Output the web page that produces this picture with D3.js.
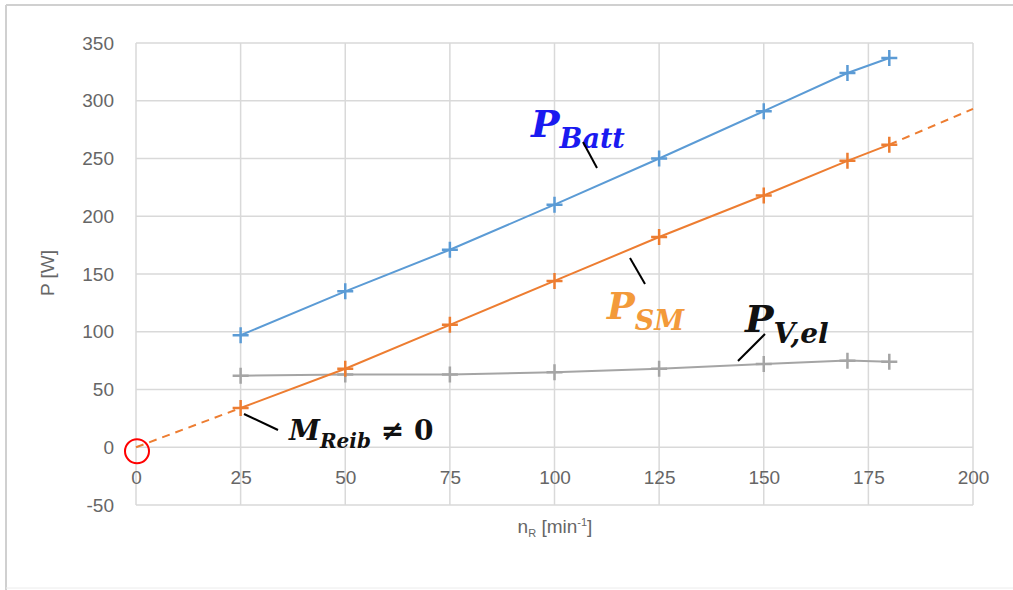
<!DOCTYPE html>
<html>
<head>
<meta charset="utf-8">
<script src="https://cdn.jsdelivr.net/npm/d3@7"></script>
<style>
  body { margin: 0; background: #fff; overflow: hidden; }
  .tick text { font-family: "Liberation Sans", Arial, sans-serif; font-size: 19px; fill: #666; }
</style>
</head>
<body>
<svg id="chart" width="1013" height="590"></svg>
<script>
// data
var nR = [25, 50, 75, 100, 125, 150, 170, 180];
var pBatt = [97, 135, 171, 210, 250, 291, 324, 337];
var pSM = [34, 68, 106, 144, 182, 218, 248, 262];
var pVel = [62, 63, 63, 65, 68, 72, 75, 74];
// dashed extension of P_SM (trend through origin)
var smTrendStart = [0, 0];
var smTrendEnd = [200, 293];
var xTicks = [0, 25, 50, 75, 100, 125, 150, 175, 200];
var yTicks = [-50, 0, 50, 100, 150, 200, 250, 300, 350];

var svg = d3.select("#chart");
var x = d3.scaleLinear().domain([0, 200]).range([136, 973]);
var y = d3.scaleLinear().domain([-50, 350]).range([505, 43]);

// chart area border (top, left, faint bottom)
svg.append("line").attr("x1", 6).attr("x2", 1013).attr("y1", 5).attr("y2", 5)
  .attr("stroke", "#d0d0d0").attr("stroke-width", 2);
svg.append("line").attr("x1", 6).attr("x2", 6).attr("y1", 5).attr("y2", 590)
  .attr("stroke", "#d0d0d0").attr("stroke-width", 2);
svg.append("line").attr("x1", 6).attr("x2", 1013).attr("y1", 588).attr("y2", 588)
  .attr("stroke", "#ececec").attr("stroke-width", 1);

// gridlines
var grid = svg.append("g");
grid.selectAll("line.h").data(yTicks).enter().append("line")
  .attr("x1", x(0)).attr("x2", x(200))
  .attr("y1", function(d){ return y(d); }).attr("y2", function(d){ return y(d); })
  .attr("stroke", "#d9d9d9").attr("stroke-width", 1.5);
grid.selectAll("line.v").data(xTicks).enter().append("line")
  .attr("y1", y(-50)).attr("y2", y(350))
  .attr("x1", function(d){ return x(d); }).attr("x2", function(d){ return x(d); })
  .attr("stroke", "#d9d9d9").attr("stroke-width", 1.5);

// axes (labels only)
var fmt = function(d){ return String(d); };
var yAxis = svg.append("g").attr("transform", "translate(" + (x(0) - 22) + ",0)")
  .call(d3.axisLeft(y).tickValues(yTicks).tickFormat(fmt).tickSize(0).tickPadding(0));
yAxis.select(".domain").remove();
var xAxis = svg.append("g").attr("transform", "translate(0," + (y(0) + 23) + ")")
  .call(d3.axisBottom(x).tickValues(xTicks).tickFormat(fmt).tickSize(0).tickPadding(0));
xAxis.select(".domain").remove();

// axis titles
svg.append("text").attr("transform", "translate(54," + 273 + ") rotate(-90)")
  .attr("text-anchor", "middle").attr("font-family", "Liberation Sans, Arial, sans-serif")
  .attr("font-size", 19).attr("fill", "#666").text("P [W]");
var xt = svg.append("text").attr("x", 555).attr("y", 533).attr("text-anchor", "middle")
  .attr("font-family", "Liberation Sans, Arial, sans-serif").attr("font-size", 19).attr("fill", "#666");
xt.append("tspan").text("n");
xt.append("tspan").attr("font-size", 11).attr("dy", 4).text("R");
xt.append("tspan").attr("dy", -4).text(" [min");
xt.append("tspan").attr("font-size", 11).attr("dy", -7).text("-1");
xt.append("tspan").attr("dy", 7).text("]");

var line = d3.line().x(function(d){ return x(d[0]); }).y(function(d){ return y(d[1]); });

// dashed SM extension
svg.append("path").attr("d", line([smTrendStart, [nR[0], pSM[0]]]))
  .attr("fill", "none").attr("stroke", "#ed7d31").attr("stroke-width", 2).attr("stroke-dasharray", "8,6");
svg.append("path").attr("d", line([[nR[nR.length-1], pSM[pSM.length-1]], smTrendEnd]))
  .attr("fill", "none").attr("stroke", "#ed7d31").attr("stroke-width", 2).attr("stroke-dasharray", "8,6");

var series = [
  {vals: pVel, color: "#a5a5a5"},
  {vals: pSM, color: "#ed7d31"},
  {vals: pBatt, color: "#5b9bd5"}
];
series.forEach(function(s){
  var pts = nR.map(function(n, i){ return [n, s.vals[i]]; });
  svg.append("path").attr("d", line(pts)).attr("fill", "none")
    .attr("stroke", s.color).attr("stroke-width", 2);
  svg.append("g").selectAll("path").data(pts).enter().append("path")
    .attr("d", function(d){
      var cx = x(d[0]), cy = y(d[1]);
      return "M" + (cx - 8) + "," + cy + "H" + (cx + 8) + "M" + cx + "," + (cy - 8) + "V" + (cy + 8);
    })
    .attr("stroke", s.color).attr("stroke-width", 2.5);
});

// annotations
function label(xp, yp, main, sub, color, mainSize, subSize, extra) {
  var t = svg.append("text").attr("x", xp).attr("y", yp)
    .attr("font-family", "DejaVu Serif, serif").attr("font-style", "italic").attr("font-weight", "bold")
    .attr("fill", color);
  t.append("tspan").attr("font-size", mainSize).text(main);
  t.append("tspan").attr("font-size", subSize).attr("dy", subSize * 0.4).text(sub);
  if (extra) t.append("tspan").attr("font-size", mainSize).attr("dy", -subSize * 0.4)
    .attr("font-style", "normal").text(extra);
}
label(531, 137, "P", "Batt", "#1a1af0", 38, 27);
label(607, 319, "P", "SM", "#f39a3a", 37, 27);
label(745, 332, "P", "V,el", "#111", 38, 28);
label(289, 440, "M", "Reib", "#111", 28, 20, " \u2260 0");

function leader(a, b) {
  svg.append("line").attr("x1", a[0]).attr("y1", a[1]).attr("x2", b[0]).attr("y2", b[1])
    .attr("stroke", "#000").attr("stroke-width", 2);
}
leader([583, 142], [597, 168]);
leader([630, 258], [645, 284]);
leader([765, 334], [738, 361]);
leader([244, 414], [278, 430]);

// red circle at origin
svg.append("circle").attr("cx", x(0) + 1).attr("cy", y(0) + 4).attr("r", 12)
  .attr("fill", "none").attr("stroke", "#ff0000").attr("stroke-width", 2);
</script>
</body>
</html>
